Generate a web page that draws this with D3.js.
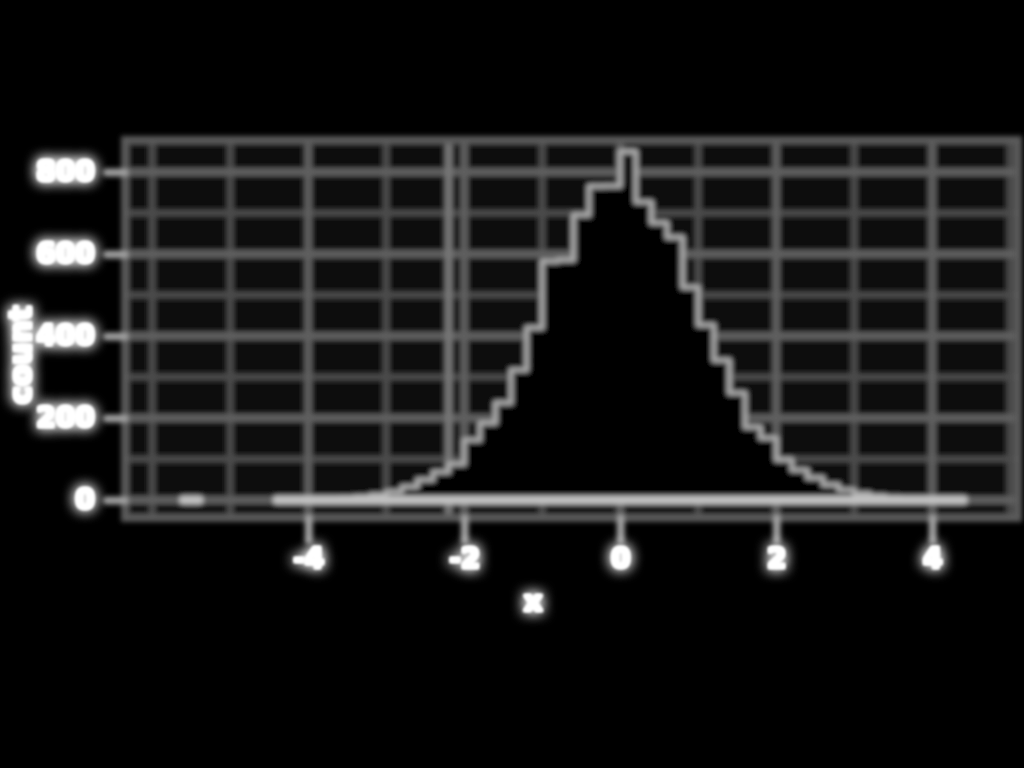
<!DOCTYPE html>
<html>
<head>
<meta charset="utf-8">
<script src="https://cdn.jsdelivr.net/npm/d3@7"></script>
<style>
  html, body { margin: 0; padding: 0; background: #000; }
  svg { display: block; }
</style>
</head>
<body>
<div id="chart"></div>
<script>
// histogram bins, width 0.2, start value of each bin
const binStarts = d3.range(50).map(i => +(-5.6 + i * 0.2).toFixed(1));
const binCounts = [
  1, 0, 0, 0, 0, 0,
  1, 1, 2, 3, 4, 7, 12, 20, 32, 49, 68, 88,
  146, 188, 237, 317, 420, 582, 585, 695, 765, 766,
  850, 727, 676, 641, 519, 427, 341, 261, 178, 151,
  98, 73, 54, 37, 24, 15, 9, 5, 3, 2, 1, 1
];
const binWidth = 0.2;
const markerX = [-2.2];

const xTicks = [-4, -2, 0, 2, 4];
const xMinor = [-6, -5, -3, -1, 1, 3, 5];
const yTicks = [0, 200, 400, 600, 800];
const yMinor = [100, 300, 500, 700];

const width = 1024, height = 768;
const panel = { left: 125, right: 1018, top: 140, bottom: 518 };

const svg = d3.select('#chart')
  .append('svg')
  .attr('width', width)
  .attr('height', height);

// big filter regions so thin lines and shifted tick groups are not clipped
const defs = svg.append('defs');
const soft = defs.append('filter').attr('id', 'soft')
  .attr('filterUnits', 'userSpaceOnUse')
  .attr('x', -1500).attr('y', -1500).attr('width', 4000).attr('height', 4000);
soft.append('feGaussianBlur').attr('stdDeviation', 2.6);

const glow = defs.append('filter').attr('id', 'glow')
  .attr('filterUnits', 'userSpaceOnUse')
  .attr('x', -1500).attr('y', -1500).attr('width', 4000).attr('height', 4000);
glow.append('feMorphology').attr('in', 'SourceGraphic').attr('operator', 'dilate').attr('radius', 1).attr('result', 'fat');
glow.append('feGaussianBlur').attr('in', 'fat').attr('stdDeviation', 7).attr('result', 'halo');
glow.append('feGaussianBlur').attr('in', 'fat').attr('stdDeviation', 1.8).attr('result', 'core');
const gm = glow.append('feMerge');
gm.append('feMergeNode').attr('in', 'halo');
gm.append('feMergeNode').attr('in', 'halo');
gm.append('feMergeNode').attr('in', 'core');
gm.append('feMergeNode').attr('in', 'core');

svg.append('rect')
  .attr('width', width)
  .attr('height', height)
  .attr('fill', '#000');

const xScale = d3.scaleLinear().domain([-6.35, 5.1]).range([panel.left, panel.right]);
const yScale = d3.scaleLinear().domain([-44, 878]).range([panel.bottom, panel.top]);

const plot = svg.append('g').attr('filter', 'url(#soft)');

plot.append('rect')
  .attr('x', panel.left)
  .attr('y', panel.top)
  .attr('width', panel.right - panel.left)
  .attr('height', panel.bottom - panel.top)
  .attr('fill', '#0c0c0c');

// grid
plot.selectAll('.vminor')
  .data(xMinor)
  .join('line')
  .attr('x1', d => xScale(d)).attr('x2', d => xScale(d))
  .attr('y1', panel.top).attr('y2', panel.bottom)
  .attr('stroke', '#4c4c4c')
  .attr('stroke-width', 7);

plot.selectAll('.hminor')
  .data(yMinor)
  .join('line')
  .attr('x1', panel.left).attr('x2', panel.right)
  .attr('y1', d => yScale(d)).attr('y2', d => yScale(d))
  .attr('stroke', '#4c4c4c')
  .attr('stroke-width', 7);

plot.selectAll('.vmajor')
  .data(xTicks)
  .join('line')
  .attr('x1', d => xScale(d)).attr('x2', d => xScale(d))
  .attr('y1', panel.top).attr('y2', panel.bottom)
  .attr('stroke', '#5e5e5e')
  .attr('stroke-width', 8);

plot.selectAll('.hmajor')
  .data(yTicks)
  .join('line')
  .attr('x1', panel.left).attr('x2', panel.right)
  .attr('y1', d => yScale(d)).attr('y2', d => yScale(d))
  .attr('stroke', '#5e5e5e')
  .attr('stroke-width', 8);

plot.selectAll('.vmark')
  .data(markerX)
  .join('line')
  .attr('x1', d => xScale(d)).attr('x2', d => xScale(d))
  .attr('y1', panel.top).attr('y2', panel.bottom)
  .attr('stroke', '#767676')
  .attr('stroke-width', 8);

// histogram: one closed step shape per run of non-empty bins
const bins = binStarts.map((x0, i) => ({ x0: x0, x1: x0 + binWidth, count: binCounts[i] }));
const runs = [];
let cur = null;
bins.forEach(b => {
  if (b.count > 0) {
    if (!cur) { cur = []; runs.push(cur); }
    cur.push(b);
  } else {
    cur = null;
  }
});

const area = d3.area()
  .curve(d3.curveStepAfter)
  .x(d => xScale(d.x))
  .y0(yScale(0))
  .y1(d => yScale(d.count));

runs.forEach(run => {
  const pts = run.map(b => ({ x: b.x0, count: b.count }));
  const last = run[run.length - 1];
  pts.push({ x: last.x1, count: last.count });

  plot.append('path')
    .datum(pts)
    .attr('d', area)
    .attr('fill', '#000')
    .attr('stroke', '#acacac')
    .attr('stroke-width', 5)
    .attr('stroke-linejoin', 'round');

  plot.append('line')
    .attr('x1', xScale(run[0].x0))
    .attr('x2', xScale(last.x1))
    .attr('y1', yScale(0)).attr('y2', yScale(0))
    .attr('stroke', '#c2c2c2')
    .attr('stroke-width', 9)
    .attr('stroke-linecap', 'round');
});

plot.append('rect')
  .attr('x', panel.left)
  .attr('y', panel.top)
  .attr('width', panel.right - panel.left)
  .attr('height', panel.bottom - panel.top)
  .attr('fill', 'none')
  .attr('stroke', '#5a5a5a')
  .attr('stroke-width', 8);

// axes
const xAxis = d3.axisBottom(xScale)
  .tickValues(xTicks)
  .tickFormat(d => d)
  .tickSize(22)
  .tickPadding(6);

const yAxis = d3.axisLeft(yScale)
  .tickValues(yTicks)
  .tickFormat(d => d)
  .tickSize(18)
  .tickPadding(8);

const gx = svg.append('g')
  .attr('transform', `translate(0, ${panel.bottom})`)
  .call(xAxis);

const gy = svg.append('g')
  .attr('transform', `translate(${panel.left}, 0)`)
  .call(yAxis);

[gx, gy].forEach(g => {
  g.select('.domain').remove();
  g.selectAll('.tick line')
    .attr('stroke', '#a0a0a0')
    .attr('stroke-width', 8)
    .attr('stroke-linecap', 'round')
    .attr('filter', 'url(#soft)');
  g.selectAll('.tick text')
    .attr('fill', '#fff')
    .attr('filter', 'url(#glow)')
    .style('font-family', 'DejaVu Sans')
    .style('font-weight', 'bold')
    .style('font-size', '28px');
});

gx.selectAll('.tick text').attr('dy', '0.8em');
gy.selectAll('.tick text').attr('dx', '-0.15em');

svg.append('text')
  .attr('x', 533)
  .attr('y', 611)
  .attr('fill', '#fff')
  .attr('text-anchor', 'middle')
  .attr('filter', 'url(#glow)')
  .style('font-family', 'DejaVu Sans')
  .style('font-weight', 'bold')
  .style('font-size', '29px')
  .text('x');

svg.append('text')
  .attr('transform', 'translate(31, 355) rotate(-90)')
  .attr('fill', '#fff')
  .attr('text-anchor', 'middle')
  .attr('filter', 'url(#glow)')
  .style('font-family', 'DejaVu Sans')
  .style('font-weight', 'bold')
  .style('font-size', '31px')
  .text('count');
</script>
</body>
</html>
